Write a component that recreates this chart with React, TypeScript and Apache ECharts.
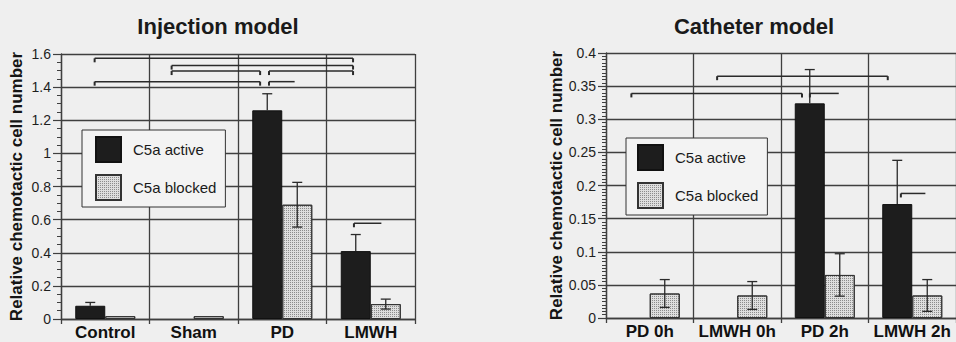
import React, { useEffect, useRef } from "react";
import * as echarts from "echarts";

// ---------- data ----------
const injCategories = ["Control", "Sham", "PD", "LMWH"];
const injActive = [0.08, 0, 1.26, 0.41];
const injActiveErr = [0.02, 0, 0.1, 0.1];
const injBlocked = [0.017, 0.017, 0.69, 0.09];
const injBlockedErr = [0, 0, 0.135, 0.03];

const cathCategories = ["PD 0h", "LMWH 0h", "PD 2h", "LMWH 2h"];
const cathActive = [0, 0, 0.324, 0.172];
const cathActiveErr = [0, 0, 0.051, 0.066];
const cathBlocked = [0.037, 0.034, 0.065, 0.034];
const cathBlockedErr = [0.021, 0.021, 0.032, 0.024];

const injTicks = { min: 0, max: 1.6, interval: 0.2 };
const cathTicks = { min: 0, max: 0.4, interval: 0.05 };

// significance brackets: [startCat, startFrac, endCat, endFrac, y, tickStart, tickEnd]
const injBrackets = [
  [0, 0.38, 3, 0.3, 1.574, 1, 1],
  [1, 0.25, 3, 0.3, 1.53, 1, 1],
  [1, 0.25, 2, 0.25, 1.497, 1, 1],
  [2, 0.35, 3, 0.3, 1.497, 1, 1],
  [0, 0.38, 2, 0.25, 1.433, 1, 1],
  [2, 0.35, 2, 0.64, 1.433, 1, 0],
  [3, 0.31, 3, 0.62, 0.578, 1, 0],
];
const cathBrackets = [
  [1, 0.27, 3, 0.22, 0.365, 1, 1],
  [0, 0.29, 2, 0.24, 0.339, 1, 1],
  [2, 0.33, 2, 0.66, 0.339, 1, 0],
  [3, 0.37, 3, 0.65, 0.188, 1, 0],
];

const SERIES_ACTIVE = "C5a active";
const SERIES_BLOCKED = "C5a blocked";

// ---------- styling ----------
const FONT = "'Liberation Sans', Arial, Helvetica, sans-serif";
const BAR_W = 30;
const LINE = "#3f3f3f";
const BG = "#efefef";
const ACTIVE_COLOR = "#1d1d1d";
const BLOCKED_COLOR = "#dedede";
const BLOCKED_DECAL = {
  symbol: "rect",
  symbolSize: 1,
  color: "rgba(40,40,40,0.45)",
  dashArrayX: [1, 1],
  dashArrayY: [1, 1],
  rotation: 0,
};

function errData(vals: number[], errs: number[], side: number, both: number) {
  return vals
    .map((v, i) => [i, v, errs[i], side, both])
    .filter((d) => d[2] > 0);
}

function errSeries(gi: number, data: number[][]) {
  return {
    type: "custom",
    xAxisIndex: gi,
    yAxisIndex: gi,
    silent: true,
    z: 5,
    dimensions: ["x", "y", "e", "side", "both"],
    encode: { x: 0, y: 1 },
    data,
    renderItem: (_p: any, api: any) => {
      const cat = api.value(0);
      const v = api.value(1);
      const e = api.value(2);
      const side = api.value(3);
      const both = api.value(4);
      const c = api.coord([cat, v]);
      const x = c[0] + (side * BAR_W) / 2;
      const top = api.coord([cat, v + e])[1];
      const bot = api.coord([cat, Math.max(v - e, 0)])[1];
      const style = { stroke: "#2a2a2a", lineWidth: 1.3 };
      const children: any[] = [
        { type: "line", shape: { x1: x, y1: both ? bot : c[1], x2: x, y2: top }, style },
        { type: "line", shape: { x1: x - 5, y1: top, x2: x + 5, y2: top }, style },
      ];
      if (both) {
        children.push({ type: "line", shape: { x1: x - 5, y1: bot, x2: x + 5, y2: bot }, style });
      }
      return { type: "group", children };
    },
  };
}

function bracketSeries(gi: number, data: number[][]) {
  return {
    type: "custom",
    xAxisIndex: gi,
    yAxisIndex: gi,
    silent: true,
    z: 6,
    clip: false,
    dimensions: ["c1", "f1", "c2", "f2", "y", "t1", "t2"],
    encode: { x: 0, y: 4 },
    data,
    renderItem: (_p: any, api: any) => {
      const band = api.size([1, 0])[0];
      const p1 = api.coord([api.value(0), api.value(4)]);
      const p2 = api.coord([api.value(2), api.value(4)]);
      const x1 = p1[0] - band / 2 + api.value(1) * band;
      const x2 = p2[0] - band / 2 + api.value(3) * band;
      const y = p1[1];
      const style = { stroke: "#2a2a2a", lineWidth: 1.5 };
      const tick = { stroke: "#2a2a2a", lineWidth: 2 };
      const children: any[] = [{ type: "line", shape: { x1, y1: y, x2, y2: y }, style }];
      if (api.value(5)) children.push({ type: "line", shape: { x1, y1: y, x2: x1, y2: y + 4 }, style: tick });
      if (api.value(6)) children.push({ type: "line", shape: { x1: x2, y1: y, x2, y2: y + 4 }, style: tick });
      return { type: "group", children };
    },
  };
}

function xAxis(gi: number, cats: string[]) {
  return {
    type: "category",
    gridIndex: gi,
    data: cats,
    axisLine: { show: true, lineStyle: { color: LINE, width: 1.3 } },
    axisTick: { show: true, length: 5, interval: 0, lineStyle: { color: LINE, width: 1.3 } },
    splitLine: { show: true, interval: 0, lineStyle: { color: LINE, width: 1.3 } },
    axisLabel: {
      color: "#111",
      fontFamily: FONT,
      fontWeight: "bold",
      fontSize: 17,
      margin: 5,
      interval: 0,
    },
  };
}

function yAxis(gi: number, t: { min: number; max: number; interval: number }, minorSplit: number) {
  return {
    type: "value",
    gridIndex: gi,
    min: t.min,
    max: t.max,
    interval: t.interval,
    name: "Relative chemotactic cell number",
    nameLocation: "middle",
    nameGap: 36,
    nameTextStyle: { color: "#151515", fontFamily: FONT, fontWeight: "bold", fontSize: 17 },
    axisLine: { show: true, lineStyle: { color: LINE, width: 1.3 } },
    axisTick: { show: true, length: 8, lineStyle: { color: LINE, width: 1.2 } },
    minorTick: { show: true, splitNumber: minorSplit, length: 4, lineStyle: { color: LINE, width: 1 } },
    splitLine: { show: true, lineStyle: { color: LINE, width: 1.3 } },
    axisLabel: { color: "#1e1e1e", fontFamily: FONT, fontSize: 14, margin: 10 },
  };
}

function barSeries(gi: number, name: string, vals: number[], color: string, border: string, decal?: any) {
  return {
    type: "bar",
    name,
    xAxisIndex: gi,
    yAxisIndex: gi,
    barWidth: BAR_W,
    barGap: "0%",
    z: 3,
    itemStyle: decal
      ? { color, borderColor: border, borderWidth: 1, decal }
      : { color, borderColor: border, borderWidth: 1 },
    data: vals.map((v) => (v > 0 ? v : null)),
  };
}

function legend(left: number, top: number, padding: number[]) {
  return {
    show: true,
    orient: "vertical",
    left,
    top,
    padding,
    itemGap: 11,
    itemWidth: 25,
    itemHeight: 25,
    icon: "rect",
    backgroundColor: "#f3f3f3",
    borderColor: "#333",
    borderWidth: 1,
    selectedMode: false,
    data: [SERIES_ACTIVE, SERIES_BLOCKED],
    textStyle: { color: "#1a1a1a", fontFamily: FONT, fontSize: 15, padding: [0, 0, 0, 7] },
  };
}

export default function App() {
  const ref = useRef<HTMLDivElement>(null);
  useEffect(() => {
    if (!ref.current) return;
    const chart = echarts.init(ref.current, undefined, { renderer: "svg" });
    chart.setOption({
      animation: false,
      backgroundColor: BG,
      title: [
        {
          text: "Injection model",
          left: 213,
          top: 10,
          textAlign: "center",
          textStyle: { fontFamily: FONT, fontWeight: "bold", fontSize: 22, color: "#1a1a1a" },
        },
        {
          text: "Catheter model",
          left: 749,
          top: 10,
          textAlign: "center",
          textStyle: { fontFamily: FONT, fontWeight: "bold", fontSize: 22, color: "#1a1a1a" },
        },
      ],
      legend: [legend(82, 130, [6, 9, 6, 13]), legend(626, 138, [6, 9, 6, 11])],
      grid: [
        { left: 61, top: 54, width: 354, height: 265 },
        { left: 606, top: 53, width: 355, height: 265 },
      ],
      xAxis: [xAxis(0, injCategories), xAxis(1, cathCategories)],
      yAxis: [yAxis(0, injTicks, 4), yAxis(1, cathTicks, 10)],
      series: [
        barSeries(0, SERIES_ACTIVE, injActive, ACTIVE_COLOR, "#111"),
        barSeries(0, SERIES_BLOCKED, injBlocked, BLOCKED_COLOR, "#333", BLOCKED_DECAL),
        errSeries(0, errData(injActive, injActiveErr, -1, 0)),
        errSeries(0, errData(injBlocked, injBlockedErr, 1, 1)),
        bracketSeries(0, injBrackets),
        barSeries(1, SERIES_ACTIVE, cathActive, ACTIVE_COLOR, "#111"),
        barSeries(1, SERIES_BLOCKED, cathBlocked, BLOCKED_COLOR, "#333", BLOCKED_DECAL),
        errSeries(1, errData(cathActive, cathActiveErr, -1, 0)),
        errSeries(1, errData(cathBlocked, cathBlockedErr, 1, 1)),
        bracketSeries(1, cathBrackets),
      ],
    });
    return () => chart.dispose();
  }, []);
  return (
    <div
      ref={ref}
      style={{ position: "absolute", left: 0, top: 0, width: 956, height: 342, background: BG }}
    />
  );
}
